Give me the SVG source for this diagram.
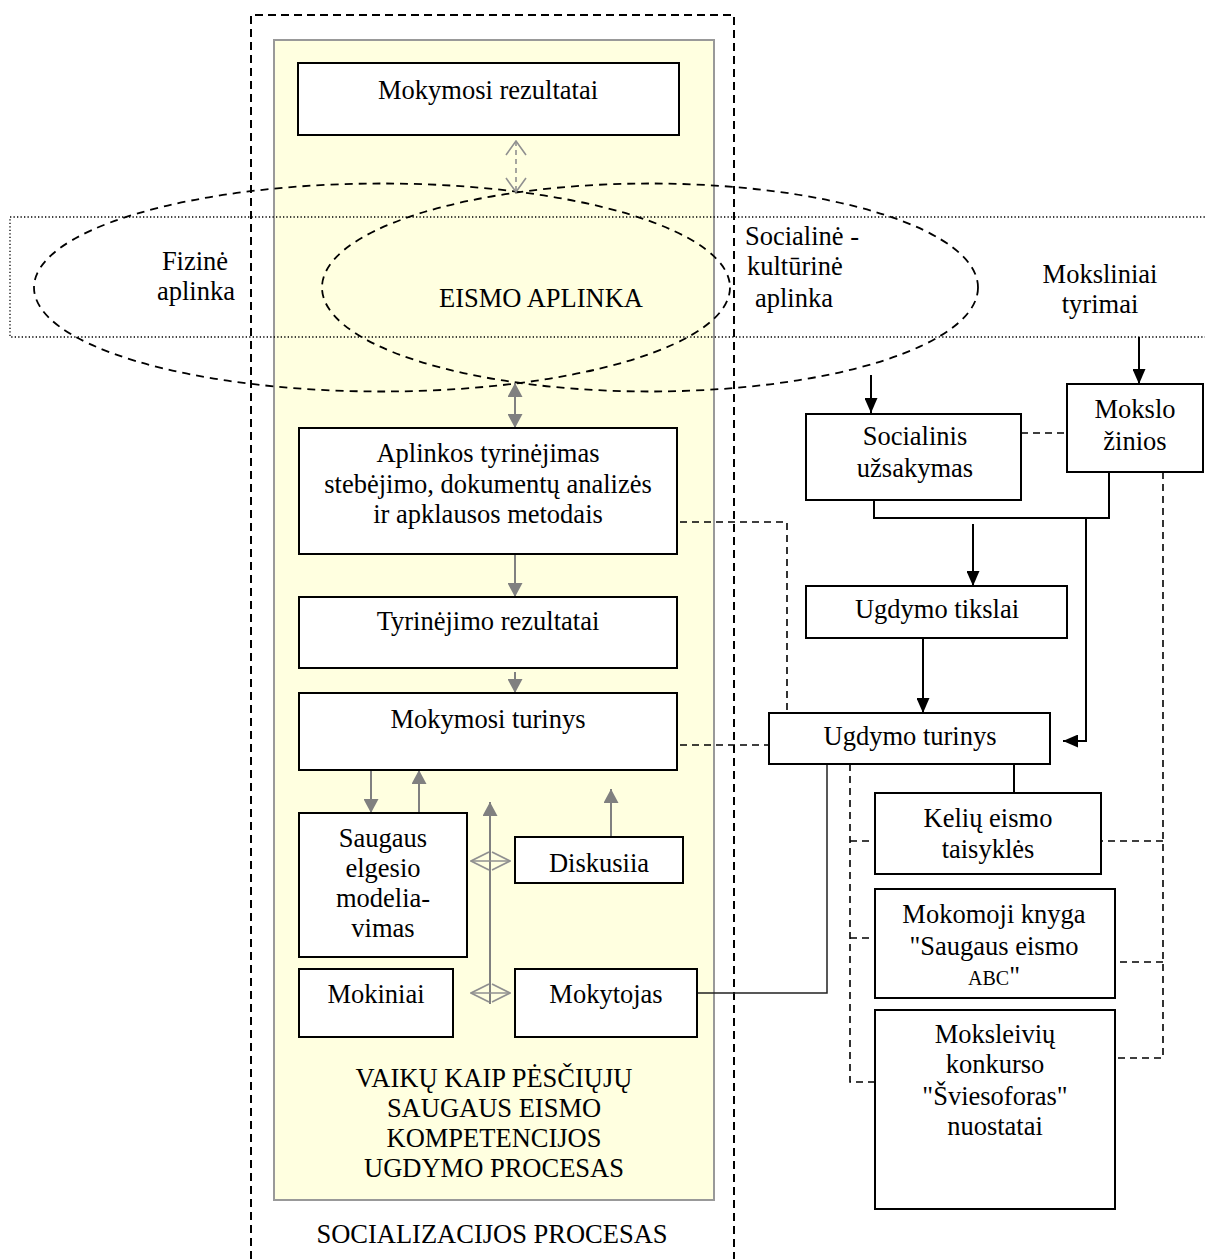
<svg xmlns="http://www.w3.org/2000/svg" width="1205" height="1259" viewBox="0 0 1205 1259">
  <style>
    text { font-family: "Liberation Serif", "Times New Roman", serif; font-size: 26.5px; fill: #000; text-anchor: middle; }
    .box { fill: #fff; stroke: #000; stroke-width: 2; }
    .dash { fill: none; stroke: #000; stroke-width: 1.6; stroke-dasharray: 7 5; }
    .dashbold { fill: none; stroke: #000; stroke-width: 2; stroke-dasharray: 8 5; }
    .ell { fill: none; stroke: #000; stroke-width: 1.8; stroke-dasharray: 8 6; }
    .solid { fill: none; stroke: #000; stroke-width: 2; }
    .thin { fill: none; stroke: #222; stroke-width: 1.5; }
    .gray { fill: none; stroke: #808080; stroke-width: 2; }
    .grayopen { fill: none; stroke: #909090; stroke-width: 1.6; }
  </style>
  <defs>
    <marker id="ahGray" viewBox="0 0 14 15" refX="14" refY="7.5" markerWidth="14" markerHeight="15" markerUnits="userSpaceOnUse" orient="auto-start-reverse">
      <path d="M0,0 L14,7.5 L0,15 z" fill="#808080"/>
    </marker>
    <marker id="ahBlack" viewBox="0 0 15 13" refX="15" refY="6.5" markerWidth="15" markerHeight="13" markerUnits="userSpaceOnUse" orient="auto-start-reverse">
      <path d="M0,0 L15,6.5 L0,13 z" fill="#000"/>
    </marker>
    <marker id="ahOpen" viewBox="0 0 16 22" refX="15" refY="11" markerWidth="16" markerHeight="22" markerUnits="userSpaceOnUse" orient="auto-start-reverse">
      <path d="M1,1 L15,11 L1,21" fill="none" stroke="#909090" stroke-width="1.6"/>
    </marker>
    <marker id="ahDiamond" viewBox="0 0 20 20" refX="19" refY="10" markerWidth="20" markerHeight="20" markerUnits="userSpaceOnUse" orient="auto-start-reverse">
      <path d="M1,1 L19,10 L1,19" fill="none" stroke="#909090" stroke-width="1.8"/>
    </marker>
  </defs>

  <rect width="1205" height="1259" fill="#fff"/>

  <!-- education process frame -->
  <g id="process-frame">
    <rect x="274" y="40" width="440" height="1160" fill="#FFFFE0" stroke="#999" stroke-width="2"/>
    <text x="494" y="1087">VAIKŲ KAIP PĖSČIŲJŲ</text>
    <text x="494" y="1117">SAUGAUS EISMO</text>
    <text x="494" y="1147">KOMPETENCIJOS</text>
    <text x="494" y="1177">UGDYMO PROCESAS</text>
  </g>

  <!-- environment band and ellipses -->
  <g id="environment">
    <rect x="10" y="217" width="1210" height="120" fill="none" stroke="#000" stroke-width="1.3" stroke-dasharray="1.3 2.2"/>
    <ellipse cx="382" cy="287.5" rx="348" ry="104" class="ell"/>
    <ellipse cx="650" cy="287.5" rx="328" ry="104" class="ell"/>
    <text x="195" y="270">Fizinė</text>
    <text x="196" y="300">aplinka</text>
    <text x="541" y="307">EISMO APLINKA</text>
    <text x="745" y="245" style="text-anchor:start">Socialinė -</text>
    <text x="747" y="275" style="text-anchor:start">kultūrinė</text>
    <text x="755" y="307" style="text-anchor:start">aplinka</text>
    <text x="1100" y="283">Moksliniai</text>
    <text x="1100" y="313">tyrimai</text>
  </g>

  <!-- socialization frame -->
  <g id="socialization-frame">
    <path d="M251,1259 V15 H734 V1259" class="dashbold"/>
    <text x="492" y="1243">SOCIALIZACIJOS PROCESAS</text>
  </g>

  <!-- connectors -->
  <g id="connectors">
    <!-- left column -->
    <path d="M516,141 V192" fill="none" stroke="#909090" stroke-width="1.6" stroke-dasharray="5 4" marker-start="url(#ahOpen)" marker-end="url(#ahOpen)"/>
    <path d="M515,383 V428" class="gray" marker-start="url(#ahGray)" marker-end="url(#ahGray)"/>
    <path d="M515,554 V597" class="gray" marker-end="url(#ahGray)"/>
    <path d="M515,672 V693" class="gray" marker-end="url(#ahGray)"/>
    <path d="M371,770 V813" class="gray" marker-end="url(#ahGray)"/>
    <path d="M419,813 V770" class="gray" marker-end="url(#ahGray)"/>
    <path d="M611,837 V789" class="gray" marker-end="url(#ahGray)"/>
    <path d="M490,1004 V802" class="gray" marker-end="url(#ahGray)"/>
    <path d="M471,861 H510" class="grayopen" marker-start="url(#ahDiamond)" marker-end="url(#ahDiamond)"/>
    <path d="M471,993 H510" class="grayopen" marker-start="url(#ahDiamond)" marker-end="url(#ahDiamond)"/>

    <!-- dashed links from left column to curriculum -->
    <path d="M680,522 H787 V713" class="dash"/>
    <path d="M680,745 H769" class="dash"/>

    <!-- teacher to curriculum -->
    <path d="M697,993 H827 V764" class="thin"/>

    <!-- right column -->
    <path d="M871,375 V413" class="solid" marker-end="url(#ahBlack)"/>
    <path d="M1139,337 V384" class="solid" marker-end="url(#ahBlack)"/>
    <path d="M1021,433 H1067" class="dash"/>
    <path d="M874,500 V518 H1109 V472" class="solid"/>
    <path d="M973,524 V586" class="solid" marker-end="url(#ahBlack)"/>
    <path d="M923,638 V713" class="solid" marker-end="url(#ahBlack)"/>
    <path d="M1086,518 V741 H1063" class="solid" marker-end="url(#ahBlack)"/>
    <path d="M1014,764 V793" class="solid"/>

    <!-- document links -->
    <path d="M850,764 V1082 H875 M850,841 H875 M850,938 H875" class="dash"/>
    <path d="M1163,472 V1058 H1115 M1163,841 H1101 M1163,962 H1115" class="dash"/>
  </g>

  <!-- left column nodes -->
  <g id="mokymosi-rezultatai">
    <rect x="298" y="63" width="381" height="72" class="box"/>
    <text x="488" y="99">Mokymosi rezultatai</text>
  </g>
  <g id="aplinkos-tyrinejimas">
    <rect x="299" y="428" width="378" height="126" class="box"/>
    <text x="488" y="462">Aplinkos tyrinėjimas</text>
    <text x="488" y="493">stebėjimo, dokumentų analizės</text>
    <text x="488" y="523">ir apklausos metodais</text>
  </g>
  <g id="tyrinejimo-rezultatai">
    <rect x="299" y="597" width="378" height="71" class="box"/>
    <text x="488" y="630">Tyrinėjimo rezultatai</text>
  </g>
  <g id="mokymosi-turinys">
    <rect x="299" y="693" width="378" height="77" class="box"/>
    <text x="488" y="728">Mokymosi turinys</text>
  </g>
  <g id="saugaus-elgesio">
    <rect x="299" y="813" width="168" height="144" class="box"/>
    <text x="383" y="847">Saugaus</text>
    <text x="383" y="877">elgesio</text>
    <text x="383" y="907">modelia-</text>
    <text x="383" y="937">vimas</text>
  </g>
  <g id="diskusija">
    <rect x="515" y="837" width="168" height="46" class="box"/>
    <text x="599" y="872">Diskusiia</text>
  </g>
  <g id="mokiniai">
    <rect x="299" y="969" width="154" height="68" class="box"/>
    <text x="376" y="1003">Mokiniai</text>
  </g>
  <g id="mokytojas">
    <rect x="515" y="969" width="182" height="68" class="box"/>
    <text x="606" y="1003">Mokytojas</text>
  </g>

  <!-- right column nodes -->
  <g id="socialinis-uzsakymas">
    <rect x="806" y="414" width="215" height="86" class="box"/>
    <text x="915" y="445">Socialinis</text>
    <text x="915" y="477">užsakymas</text>
  </g>
  <g id="mokslo-zinios">
    <rect x="1067" y="384" width="136" height="88" class="box"/>
    <text x="1135" y="418">Mokslo</text>
    <text x="1135" y="450">žinios</text>
  </g>
  <g id="ugdymo-tikslai">
    <rect x="806" y="586" width="261" height="52" class="box"/>
    <text x="937" y="618">Ugdymo tikslai</text>
  </g>
  <g id="ugdymo-turinys">
    <rect x="769" y="713" width="281" height="51" class="box"/>
    <text x="910" y="745">Ugdymo turinys</text>
  </g>
  <g id="keliu-eismo-taisykles">
    <rect x="875" y="793" width="226" height="81" class="box"/>
    <text x="988" y="827">Kelių eismo</text>
    <text x="988" y="858">taisyklės</text>
  </g>
  <g id="mokomoji-knyga">
    <rect x="875" y="889" width="240" height="109" class="box"/>
    <text x="994" y="923">Mokomoji knyga</text>
    <text x="994" y="955">"Saugaus eismo</text>
    <text x="994" y="985"><tspan style="font-size:20px">ABC</tspan>"</text>
  </g>
  <g id="moksleiviu-konkursas">
    <rect x="875" y="1010" width="240" height="199" class="box"/>
    <text x="995" y="1043">Moksleivių</text>
    <text x="995" y="1073">konkurso</text>
    <text x="995" y="1105">"Šviesoforas"</text>
    <text x="995" y="1135">nuostatai</text>
  </g>
</svg>
